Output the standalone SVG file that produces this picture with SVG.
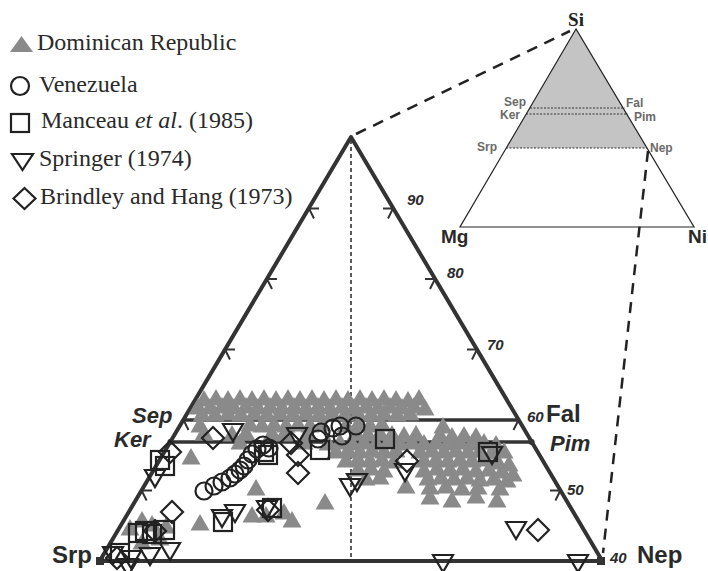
<svg xmlns="http://www.w3.org/2000/svg" xmlns:xlink="http://www.w3.org/1999/xlink" width="708" height="571" viewBox="0 0 708 571">
<style>
.leg{font-family:"Liberation Serif","Times New Roman",serif;font-size:24px;fill:#2a2a2a}
.ax{font-family:"Liberation Sans",Arial,sans-serif;font-weight:bold;fill:#2a2a2a}
.num{font-family:"Liberation Sans",Arial,sans-serif;font-weight:bold;font-style:italic;font-size:15px;fill:#2a2a2a}
.ins{font-family:"Liberation Sans",Arial,sans-serif;font-weight:bold;font-size:12px;fill:#6a6a6a}
.edge{fill:none;stroke:#333;stroke-width:4;stroke-linejoin:round}
.tick{fill:none;stroke:#333;stroke-width:2}
.open{fill:none;stroke:#222;stroke-width:2.2}
.g{fill:#8a8a8a}
.dash{fill:none;stroke:#222;stroke-width:2.5;stroke-dasharray:11 8}
</style>
<defs>
<path id="t" d="M-9.5,7.5 L9.5,7.5 L0,-9 Z"/>
<path id="v" d="M-10,-8 L10,-8 L0,9 Z"/>
<rect id="s" x="-9" y="-9" width="18" height="18"/>
<circle id="c" r="8.5"/>
<path id="d" d="M0,-11 L11,0 L0,11 L-11,0 Z"/>
</defs>

<g id="legend">
<path class="g" d="M10,52 L33,52 L21.5,36 Z"/>
<text class="leg" x="37" y="50">Dominican Republic</text>
<circle class="open" cx="20" cy="86" r="9"/>
<text class="leg" x="39" y="92">Venezuela</text>
<rect class="open" x="11" y="114" width="18" height="18"/>
<text class="leg" x="41" y="128">Manceau <tspan font-style="italic">et al</tspan>. (1985)</text>
<path class="open" d="M12,154 L33,154 L22.5,170 Z"/>
<text class="leg" x="39" y="166">Springer (1974)</text>
<path class="open" d="M24.5,188 L35.5,198.5 L24.5,209 L13.5,198.5 Z"/>
<text class="leg" x="40" y="204">Brindley and Hang (1973)</text>
</g>

<g id="connectors">
<line class="dash" x1="356" y1="134" x2="570" y2="31"/>
<line class="dash" x1="648" y1="151" x2="603" y2="553"/>
</g>

<g id="inset">
<path d="M576,29 L506,148 L647,148 Z" fill="#c4c4c4"/>
<path d="M576,29 L460,227 L694,227 Z" fill="none" stroke="#222" stroke-width="1.2"/>
<g stroke="#333" stroke-width="1" stroke-dasharray="2 1.5">
<line x1="530" y1="108" x2="625" y2="108"/>
<line x1="526" y1="114" x2="628" y2="114"/>
<line x1="506" y1="148" x2="647" y2="148"/>
</g>
<text x="576" y="26" text-anchor="middle" font-family="Liberation Serif,serif" font-weight="bold" font-size="19" fill="#222">Si</text>
<text class="ins" x="504" y="106">Sep</text>
<text class="ins" x="500" y="119">Ker</text>
<text class="ins" x="626" y="107">Fal</text>
<text class="ins" x="634" y="121">Pim</text>
<text class="ins" x="477" y="151">Srp</text>
<text class="ins" x="650" y="152">Nep</text>
<text class="ax" x="441" y="243" font-size="19" fill="#222">Mg</text>
<text class="ax" x="688" y="243" font-size="19" fill="#222">Ni</text>
</g>

<g id="frame">
<line x1="351" y1="140" x2="351" y2="559" stroke="#333" stroke-width="1.6" stroke-dasharray="4 3"/>
<line x1="183.5" y1="420" x2="518.5" y2="420" stroke="#333" stroke-width="3.5"/>
<line x1="170.4" y1="442" x2="531.6" y2="442" stroke="#333" stroke-width="3.5"/>
<path class="tick" d="M383,208.5 L393,208.5 L388,218.5 M319,208.5 L309,208.5 L314,218.5
M425,279 L435,279 L430,289 M277,279 L267,279 L272,289
M467,349.5 L477,349.5 L472,359.5 M235,349.5 L225,349.5 L230,359.5
M508,420 L518.5,420 L513.5,430 M193,420 L183.5,420 L188.5,430
M550,490.5 L560.4,490.5 L555.4,500.5 M152,490.5 L141.6,490.5 L146.6,500.5"/>
<path class="edge" d="M99.7,561 L351,137 L602.3,561 Z"/>
<rect x="597" y="557" width="8" height="8" fill="#333"/>
<rect x="96" y="557" width="8" height="8" fill="#333"/>
<circle cx="531.6" cy="442" r="3" fill="#333"/>
<circle cx="170.4" cy="442" r="3" fill="#333"/>
</g>

<g id="dominican" class="g">
<use href="#t" x="204" y="399"/><use href="#t" x="216" y="398"/><use href="#t" x="228" y="399"/><use href="#t" x="240" y="398"/><use href="#t" x="252" y="399"/><use href="#t" x="264" y="398"/><use href="#t" x="276" y="399"/><use href="#t" x="288" y="398"/><use href="#t" x="300" y="399"/><use href="#t" x="312" y="398"/><use href="#t" x="324" y="399"/><use href="#t" x="336" y="398"/><use href="#t" x="348" y="399"/><use href="#t" x="360" y="398"/><use href="#t" x="372" y="399"/><use href="#t" x="384" y="398"/><use href="#t" x="396" y="399"/><use href="#t" x="408" y="400"/><use href="#t" x="419" y="398"/>
<use href="#t" x="198" y="407"/><use href="#t" x="210" y="407"/><use href="#t" x="222" y="406"/><use href="#t" x="234" y="407"/><use href="#t" x="246" y="406"/><use href="#t" x="258" y="407"/><use href="#t" x="270" y="406"/><use href="#t" x="282" y="407"/><use href="#t" x="294" y="406"/><use href="#t" x="306" y="407"/><use href="#t" x="318" y="406"/><use href="#t" x="330" y="407"/><use href="#t" x="342" y="406"/><use href="#t" x="354" y="407"/><use href="#t" x="366" y="406"/><use href="#t" x="378" y="407"/><use href="#t" x="390" y="406"/><use href="#t" x="402" y="407"/><use href="#t" x="414" y="406"/><use href="#t" x="425" y="408"/>
<use href="#t" x="202" y="414"/><use href="#t" x="215" y="414"/><use href="#t" x="228" y="413"/><use href="#t" x="241" y="414"/><use href="#t" x="254" y="413"/><use href="#t" x="267" y="414"/><use href="#t" x="280" y="413"/><use href="#t" x="293" y="414"/><use href="#t" x="306" y="413"/><use href="#t" x="319" y="414"/><use href="#t" x="332" y="413"/><use href="#t" x="345" y="414"/><use href="#t" x="358" y="413"/><use href="#t" x="371" y="414"/><use href="#t" x="384" y="413"/><use href="#t" x="397" y="414"/><use href="#t" x="410" y="413"/>
<use href="#t" x="200" y="425"/><use href="#t" x="250" y="424"/><use href="#t" x="262" y="425"/><use href="#t" x="274" y="424"/><use href="#t" x="286" y="425"/><use href="#t" x="298" y="424"/><use href="#t" x="310" y="425"/><use href="#t" x="322" y="424"/><use href="#t" x="346" y="425"/><use href="#t" x="358" y="424"/><use href="#t" x="370" y="425"/><use href="#t" x="382" y="424"/><use href="#t" x="443" y="426"/>
<use href="#t" x="204" y="433"/><use href="#t" x="232" y="434"/><use href="#t" x="246" y="433"/><use href="#t" x="272" y="433"/><use href="#t" x="284" y="434"/><use href="#t" x="308" y="433"/><use href="#t" x="356" y="433"/><use href="#t" x="368" y="434"/><use href="#t" x="380" y="433"/><use href="#t" x="392" y="434"/><use href="#t" x="404" y="435"/><use href="#t" x="416" y="434"/><use href="#t" x="440" y="435"/><use href="#t" x="452" y="436"/><use href="#t" x="464" y="435"/><use href="#t" x="476" y="436"/>
<use href="#t" x="240" y="442"/><use href="#t" x="304" y="442"/><use href="#t" x="328" y="443"/><use href="#t" x="340" y="442"/><use href="#t" x="352" y="443"/><use href="#t" x="364" y="442"/><use href="#t" x="376" y="443"/><use href="#t" x="388" y="442"/><use href="#t" x="400" y="443"/><use href="#t" x="412" y="442"/><use href="#t" x="424" y="443"/><use href="#t" x="436" y="442"/><use href="#t" x="448" y="443"/><use href="#t" x="460" y="442"/><use href="#t" x="472" y="443"/><use href="#t" x="484" y="442"/><use href="#t" x="496" y="444"/>
<use href="#t" x="336" y="451"/><use href="#t" x="348" y="450"/><use href="#t" x="360" y="451"/><use href="#t" x="372" y="450"/><use href="#t" x="384" y="451"/><use href="#t" x="396" y="450"/><use href="#t" x="420" y="451"/><use href="#t" x="432" y="450"/><use href="#t" x="444" y="451"/><use href="#t" x="456" y="450"/><use href="#t" x="468" y="451"/><use href="#t" x="480" y="450"/><use href="#t" x="492" y="452"/><use href="#t" x="504" y="451"/>
<use href="#t" x="346" y="460"/><use href="#t" x="358" y="459"/><use href="#t" x="370" y="460"/><use href="#t" x="382" y="459"/><use href="#t" x="394" y="461"/><use href="#t" x="424" y="460"/><use href="#t" x="436" y="459"/><use href="#t" x="448" y="460"/><use href="#t" x="460" y="459"/><use href="#t" x="472" y="460"/><use href="#t" x="484" y="459"/><use href="#t" x="498" y="462"/><use href="#t" x="509" y="464"/>
<use href="#t" x="358" y="469"/><use href="#t" x="371" y="468"/><use href="#t" x="384" y="470"/><use href="#t" x="424" y="470"/><use href="#t" x="437" y="468"/><use href="#t" x="450" y="469"/><use href="#t" x="463" y="468"/><use href="#t" x="476" y="470"/><use href="#t" x="489" y="469"/><use href="#t" x="502" y="471"/><use href="#t" x="513" y="474"/>
<use href="#t" x="366" y="478"/><use href="#t" x="380" y="477"/><use href="#t" x="428" y="478"/><use href="#t" x="441" y="477"/><use href="#t" x="454" y="478"/><use href="#t" x="467" y="477"/><use href="#t" x="480" y="479"/><use href="#t" x="494" y="478"/><use href="#t" x="507" y="480"/>
<use href="#t" x="406" y="486"/><use href="#t" x="430" y="487"/><use href="#t" x="446" y="486"/><use href="#t" x="462" y="488"/><use href="#t" x="478" y="487"/><use href="#t" x="500" y="488"/>
<use href="#t" x="430" y="497"/><use href="#t" x="452" y="500"/><use href="#t" x="497" y="500"/><use href="#t" x="476" y="496"/>
<use href="#t" x="191" y="457"/><use href="#t" x="200" y="523"/><use href="#t" x="256" y="488"/><use href="#t" x="252" y="515"/><use href="#t" x="266" y="515"/><use href="#t" x="284" y="512"/><use href="#t" x="292" y="520"/><use href="#t" x="325" y="502"/>
<use href="#t" x="130" y="528"/><use href="#t" x="142" y="520"/><use href="#t" x="152" y="524"/><use href="#t" x="160" y="538"/><use href="#t" x="142" y="542"/><use href="#t" x="166" y="526"/>
</g>

<g id="venezuela" class="open">
<use href="#c" x="204" y="491"/><use href="#c" x="214" y="486"/><use href="#c" x="222" y="482"/><use href="#c" x="230" y="478"/><use href="#c" x="235" y="474"/><use href="#c" x="240" y="470"/><use href="#c" x="244" y="466"/><use href="#c" x="248" y="460"/><use href="#c" x="252" y="454"/><use href="#c" x="257" y="449"/><use href="#c" x="263" y="445"/><use href="#c" x="269" y="448"/>
<use href="#c" x="318" y="439"/><use href="#c" x="321" y="432"/><use href="#c" x="333" y="428"/><use href="#c" x="340" y="426"/><use href="#c" x="342" y="436"/><use href="#c" x="356" y="426"/>
</g>

<g id="manceau" class="open">
<use href="#s" x="160" y="460"/><use href="#s" x="165" y="466"/><use href="#s" x="264" y="452"/><use href="#s" x="268" y="455"/><use href="#s" x="320" y="450"/><use href="#s" x="385" y="439"/><use href="#s" x="488" y="452"/>
<use href="#s" x="138" y="533"/><use href="#s" x="145" y="531"/><use href="#s" x="152" y="534"/><use href="#s" x="165" y="530"/><use href="#s" x="120" y="553"/><use href="#s" x="223" y="522"/><use href="#s" x="272" y="508"/>
</g>

<g id="springer" class="open">
<use href="#v" x="233" y="432"/><use href="#v" x="297" y="436"/><use href="#v" x="155" y="478"/><use href="#v" x="492" y="455"/><use href="#v" x="357" y="482"/><use href="#v" x="350" y="487"/><use href="#v" x="405" y="472"/><use href="#v" x="516" y="530"/><use href="#v" x="443" y="563"/><use href="#v" x="578" y="563"/>
<use href="#v" x="222" y="518"/><use href="#v" x="235" y="513"/><use href="#v" x="267" y="509"/><use href="#v" x="113" y="555"/><use href="#v" x="131" y="559"/><use href="#v" x="150" y="556"/><use href="#v" x="170" y="551"/><use href="#v" x="128" y="567"/>
</g>

<g id="brindley" class="open">
<use href="#d" x="213" y="438"/><use href="#d" x="170" y="452"/><use href="#d" x="172" y="512"/><use href="#d" x="291" y="443"/><use href="#d" x="298" y="455"/><use href="#d" x="298" y="473"/><use href="#d" x="407" y="461"/><use href="#d" x="538" y="530"/><use href="#d" x="268" y="510"/><use href="#d" x="155" y="531"/><use href="#d" x="117" y="558"/>
</g>

<g id="labels">
<text class="ax" x="132" y="423" font-size="22" font-style="italic">Sep</text>
<text class="ax" x="114" y="447" font-size="22" font-style="italic">Ker</text>
<text class="ax" x="546" y="422" font-size="24" fill="#1a1a1a">Fal</text>
<text class="ax" x="550" y="451" font-size="22" font-style="italic" fill="#444">Pim</text>
<text class="ax" x="52" y="563" font-size="24" fill="#1a1a1a">Srp</text>
<text class="ax" x="637" y="563" font-size="24" fill="#1a1a1a">Nep</text>
<text class="num" x="407" y="205">90</text>
<text class="num" x="447" y="278">80</text>
<text class="num" x="487" y="350">70</text>
<text class="num" x="527" y="422">60</text>
<text class="num" x="567" y="495">50</text>
<text class="num" x="610" y="563">40</text>
</g>
</svg>
